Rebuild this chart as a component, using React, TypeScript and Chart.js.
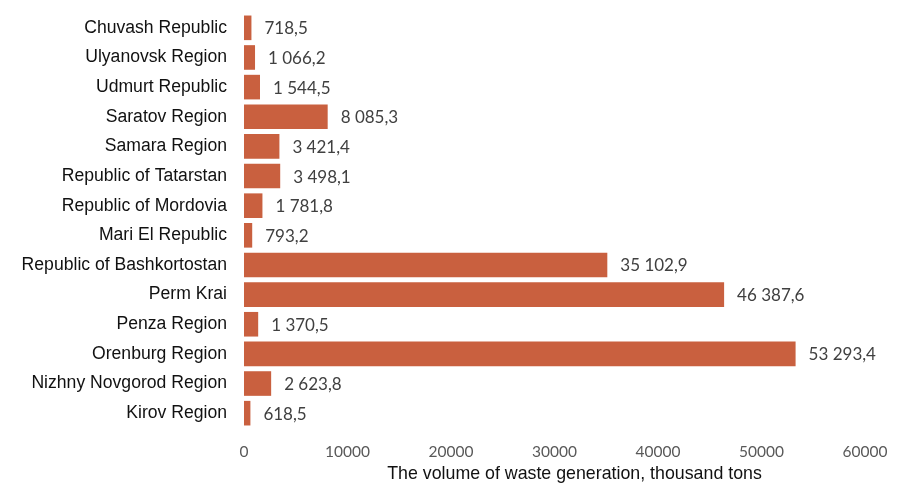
import React, { useEffect, useRef } from "react";
import { Chart, registerables } from "chart.js";

Chart.register(...registerables);

const categories = [
  "Chuvash Republic",
  "Ulyanovsk Region",
  "Udmurt Republic",
  "Saratov Region",
  "Samara Region",
  "Republic of Tatarstan",
  "Republic of Mordovia",
  "Mari El Republic",
  "Republic of Bashkortostan",
  "Perm Krai",
  "Penza Region",
  "Orenburg Region",
  "Nizhny Novgorod Region",
  "Kirov Region",
];

const wasteVolume = [
  718.5, 1066.2, 1544.5, 8085.3, 3421.4, 3498.1, 1781.8, 793.2, 35102.9,
  46387.6, 1370.5, 53293.4, 2623.8, 618.5,
];

const xTicks = [0, 10000, 20000, 30000, 40000, 50000, 60000];
const axisTitle = "The volume of waste generation, thousand tons";

function formatValue(v: number): string {
  const [intPart, dec] = v.toFixed(1).split(".");
  const withSpaces = intPart.replace(/\B(?=(\d{3})+(?!\d))/g, " ");
  return withSpaces + "," + dec;
}

const valueLabelPlugin = {
  id: "valueLabels",
  afterDatasetsDraw(chart: any) {
    const ctx = chart.ctx;
    const meta = chart.getDatasetMeta(0);
    const data = chart.data.datasets[0].data as number[];
    ctx.save();
    ctx.font = '17px Lato, "Open Sans", sans-serif';
    ctx.fillStyle = "#404040";
    ctx.textAlign = "left";
    ctx.textBaseline = "middle";
    meta.data.forEach((bar: any, i: number) => {
      ctx.fillText(formatValue(data[i]), bar.x + 13, bar.y + 1);
    });
    ctx.restore();
  },
};

const axisTitlePlugin = {
  id: "axisTitleOffset",
  afterDraw(chart: any) {
    const ctx = chart.ctx;
    const area = chart.chartArea;
    ctx.save();
    ctx.font = '17.8px "Liberation Sans", Arial, sans-serif';
    ctx.fillStyle = "#111111";
    ctx.textAlign = "center";
    ctx.textBaseline = "middle";
    ctx.fillText(axisTitle, (area.left + area.right) / 2 + 20, chart.height - 9);
    ctx.restore();
  },
};

export default function App() {
  const ref = useRef<HTMLCanvasElement>(null);

  useEffect(() => {
    document.body.style.margin = "0";
    const chart = new Chart(ref.current!, {
      type: "bar",
      data: {
        labels: categories,
        datasets: [
          {
            data: wasteVolume,
            backgroundColor: "#C9603F",
            borderWidth: 0,
            barPercentage: 0.83,
            categoryPercentage: 1,
          },
        ],
      },
      options: {
        indexAxis: "y",
        animation: false,
        responsive: true,
        maintainAspectRatio: false,
        layout: { padding: { top: 13, right: 39, bottom: 0, left: 0 } },
        plugins: {
          legend: { display: false },
          tooltip: { enabled: false },
        },
        scales: {
          x: {
            min: 0,
            max: 60000,
            afterBuildTicks(scale: any) {
              scale.ticks = xTicks.map((v) => ({ value: v }));
            },
            afterFit(scale: any) {
              scale.height = 55;
            },
            grid: { display: false, drawTicks: false },
            border: { display: false },
            ticks: {
              padding: 15,
              color: "#595959",
              font: { family: 'Lato, "Open Sans", sans-serif', size: 15.5 },
              callback: (v: any) => String(v),
            },
          },
          y: {
            afterFit(scale: any) {
              scale.width = 244;
              scale.paddingTop = 0;
              scale.paddingBottom = 0;
            },
            grid: { display: false, drawTicks: false },
            border: { display: false },
            ticks: {
              padding: 17,
              color: "#111111",
              font: { family: '"Liberation Sans", Arial, sans-serif', size: 17.6 },
            },
          },
        },
      },
      plugins: [valueLabelPlugin, axisTitlePlugin],
    });
    return () => chart.destroy();
  }, []);

  return (
    <div style={{ width: 904, height: 483, position: "relative" }}>
      <canvas ref={ref} />
    </div>
  );
}
